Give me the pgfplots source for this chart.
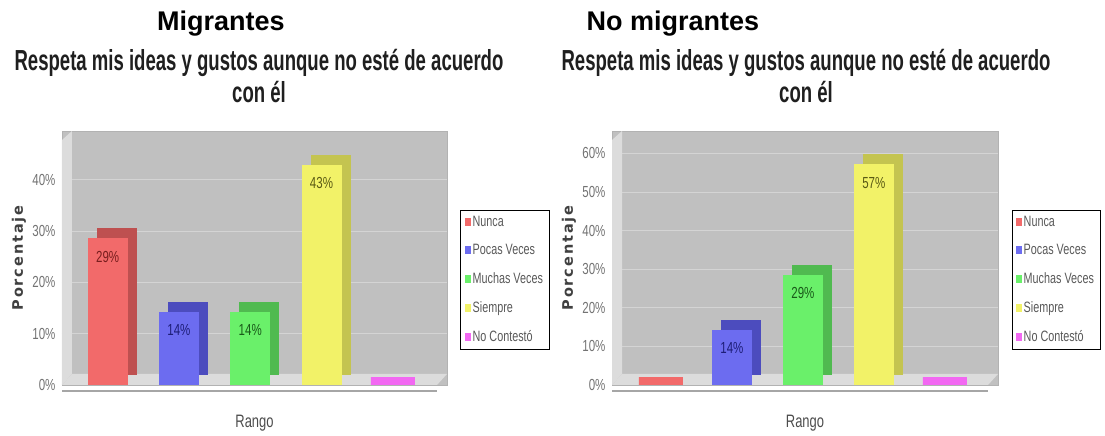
\documentclass[border=0pt]{standalone}
\usepackage{pgfplots}
\pgfplotsset{compat=1.18}
\usepackage{fontspec}
\setmainfont{Liberation Sans}
\newfontfamily\condfont[FakeStretch=0.72]{Liberation Sans}
\newfontfamily\subtfont[FakeStretch=0.64]{Liberation Sans}
\newfontfamily\lblfont[LetterSpace=13]{DejaVu Sans}

\definecolor{bggray}{RGB}{192,192,192}
\definecolor{wallgray}{RGB}{220,220,220}
\definecolor{gridgray}{RGB}{212,212,212}
\definecolor{tickgray}{RGB}{115,115,115}
\definecolor{cRed}{RGB}{242,106,106}
\definecolor{sRed}{RGB}{190,80,80}
\definecolor{tRed}{RGB}{120,30,30}
\definecolor{cBlue}{RGB}{108,108,240}
\definecolor{sBlue}{RGB}{76,76,190}
\definecolor{tBlue}{RGB}{30,30,120}
\definecolor{cGreen}{RGB}{106,240,106}
\definecolor{sGreen}{RGB}{80,186,80}
\definecolor{tGreen}{RGB}{25,90,25}
\definecolor{cYellow}{RGB}{242,242,104}
\definecolor{sYellow}{RGB}{196,196,80}
\definecolor{tYellow}{RGB}{90,90,20}
\definecolor{cMag}{RGB}{242,104,242}

\pgfplotsset{
  encuesta/.style={
    scale only axis, height=254pt,
    ymin=0, ybar, bar width=40pt,
    axis background/.style={fill=bggray},
    axis line style={draw=gray!60},
    ymajorgrids, grid style={draw=gridgray, line width=0.8pt},
    xtick=\empty, ytick distance=10, major tick length=0pt,
    yticklabel={\pgfmathprintnumber{\tick}\%},
    /pgf/number format/assume math mode=true,
    yticklabel style={font=\condfont\fontsize{16}{16}\selectfont, text=tickgray, xshift=-3pt},
    every axis y label/.style={at={(rel axis cs:0,0.5)}, xshift=-43pt, rotate=90, anchor=center,
      font=\lblfont\bfseries\fontsize{14.5}{14.5}\selectfont, text=black!75},
    every axis x label/.style={at={(rel axis cs:0.5,0)}, anchor=center, yshift=-38pt,
      font=\condfont\fontsize{18}{18}\selectfont, text=black!70},
    ylabel={Porcentaje}, xlabel={Rango},
    legend style={at={(rel axis cs:1.035,0.689)}, anchor=north west, draw=black, fill=white,
      font=\condfont\fontsize{15}{15}\selectfont, text=black!65, row sep=12.5pt, inner sep=4pt,
      cells={anchor=west}},
  },
  front/.style={fill=#1, draw=none, bar shift=0pt,
    /pgfplots/legend image code/.code={\fill[##1,draw=none] (0pt,-4pt) rectangle (6pt,4pt);}},
  flat/.style={fill=#1, draw=#1, line width=16pt, bar width=44pt, bar shift=0pt,
    /pgfplots/legend image code/.code={\fill[##1,draw=none] (0pt,-4pt) rectangle (6pt,4pt);}},
  side/.style={fill=#1, draw=none, bar shift=0pt, forget plot, xshift=9pt, yshift=10pt},
  lab/.style={nodes near coords={\pgfmathprintnumber[fixed,precision=0]{\pgfplotspointmeta}\%},
    nodes near coords style={text=#1, font=\condfont\fontsize{16}{16}\selectfont, anchor=north, yshift=-9pt}},
}

\newcommand{\caja}{%
  \fill[wallgray] (rel axis cs:0,0) -- ([shift={(10pt,11pt)}]rel axis cs:0,0)
    -- ([xshift=10pt]rel axis cs:0,1) -- ([yshift=-9pt]rel axis cs:0,1) -- cycle;
  \fill[wallgray] (rel axis cs:0,0) -- ([shift={(10pt,11pt)}]rel axis cs:0,0)
    -- ([yshift=11pt]rel axis cs:1,0) -- ([xshift=-10pt]rel axis cs:1,0) -- cycle;
}

\begin{document}
\begin{tikzpicture}
\useasboundingbox (0,0) rectangle (1105pt,436pt);

\node[font=\bfseries\fontsize{27}{27}\selectfont] at (221pt,412pt) {Migrantes};
\node[font=\subtfont\bfseries\fontsize{29}{32}\selectfont, align=center, text=black!88] at (259pt,360pt)
  {Respeta mis ideas y gustos aunque no esté de acuerdo\\con él};
\node[font=\bfseries\fontsize{27}{27}\selectfont] at (673pt,412pt) {No migrantes};
\node[font=\subtfont\bfseries\fontsize{29}{32}\selectfont, align=center, text=black!88] at (806pt,360pt)
  {Respeta mis ideas y gustos aunque no esté de acuerdo\\con él};

% Migrantes
\begin{axis}[encuesta, name=L, at={(62pt,51pt)}, anchor=south west, width=385pt,
  xmin=-0.64, xmax=4.76, ymax=49.5]
  \caja
  \addplot[side=sRed] coordinates {(0,28.57)};
  \addplot[front=cRed, lab=tRed] coordinates {(0,28.57)};
  \addlegendentry{Nunca}
  \addplot[side=sBlue] coordinates {(1,14.29)};
  \addplot[front=cBlue, lab=tBlue] coordinates {(1,14.29)};
  \addlegendentry{Pocas Veces}
  \addplot[side=sGreen] coordinates {(2,14.29)};
  \addplot[front=cGreen, lab=tGreen] coordinates {(2,14.29)};
  \addlegendentry{Muchas Veces}
  \addplot[side=sYellow] coordinates {(3,42.86)};
  \addplot[front=cYellow, lab=tYellow] coordinates {(3,42.86)};
  \addlegendentry{Siempre}
  \addplot[flat=cMag] coordinates {(4,0)};
  \addlegendentry{No Contestó}
\end{axis}
\draw[gray!70, line width=1.5pt] ([yshift=-6pt]L.south west) -- ([shift={(-10pt,-6pt)}]L.south east);

% No migrantes
\begin{axis}[encuesta, name=R, at={(612pt,51pt)}, anchor=south west, width=386pt,
  xmin=-0.69, xmax=4.75, ymax=65.8]
  \caja
  \addplot[flat=cRed] coordinates {(0,0)};
  \addlegendentry{Nunca}
  \addplot[side=sBlue] coordinates {(1,14.29)};
  \addplot[front=cBlue, lab=tBlue] coordinates {(1,14.29)};
  \addlegendentry{Pocas Veces}
  \addplot[side=sGreen] coordinates {(2,28.57)};
  \addplot[front=cGreen, lab=tGreen] coordinates {(2,28.57)};
  \addlegendentry{Muchas Veces}
  \addplot[side=sYellow] coordinates {(3,57.14)};
  \addplot[front=cYellow, lab=tYellow] coordinates {(3,57.14)};
  \addlegendentry{Siempre}
  \addplot[flat=cMag] coordinates {(4,0)};
  \addlegendentry{No Contestó}
\end{axis}
\draw[gray!70, line width=1.5pt] ([yshift=-6pt]R.south west) -- ([shift={(-10pt,-6pt)}]R.south east);
\end{tikzpicture}
\end{document}
